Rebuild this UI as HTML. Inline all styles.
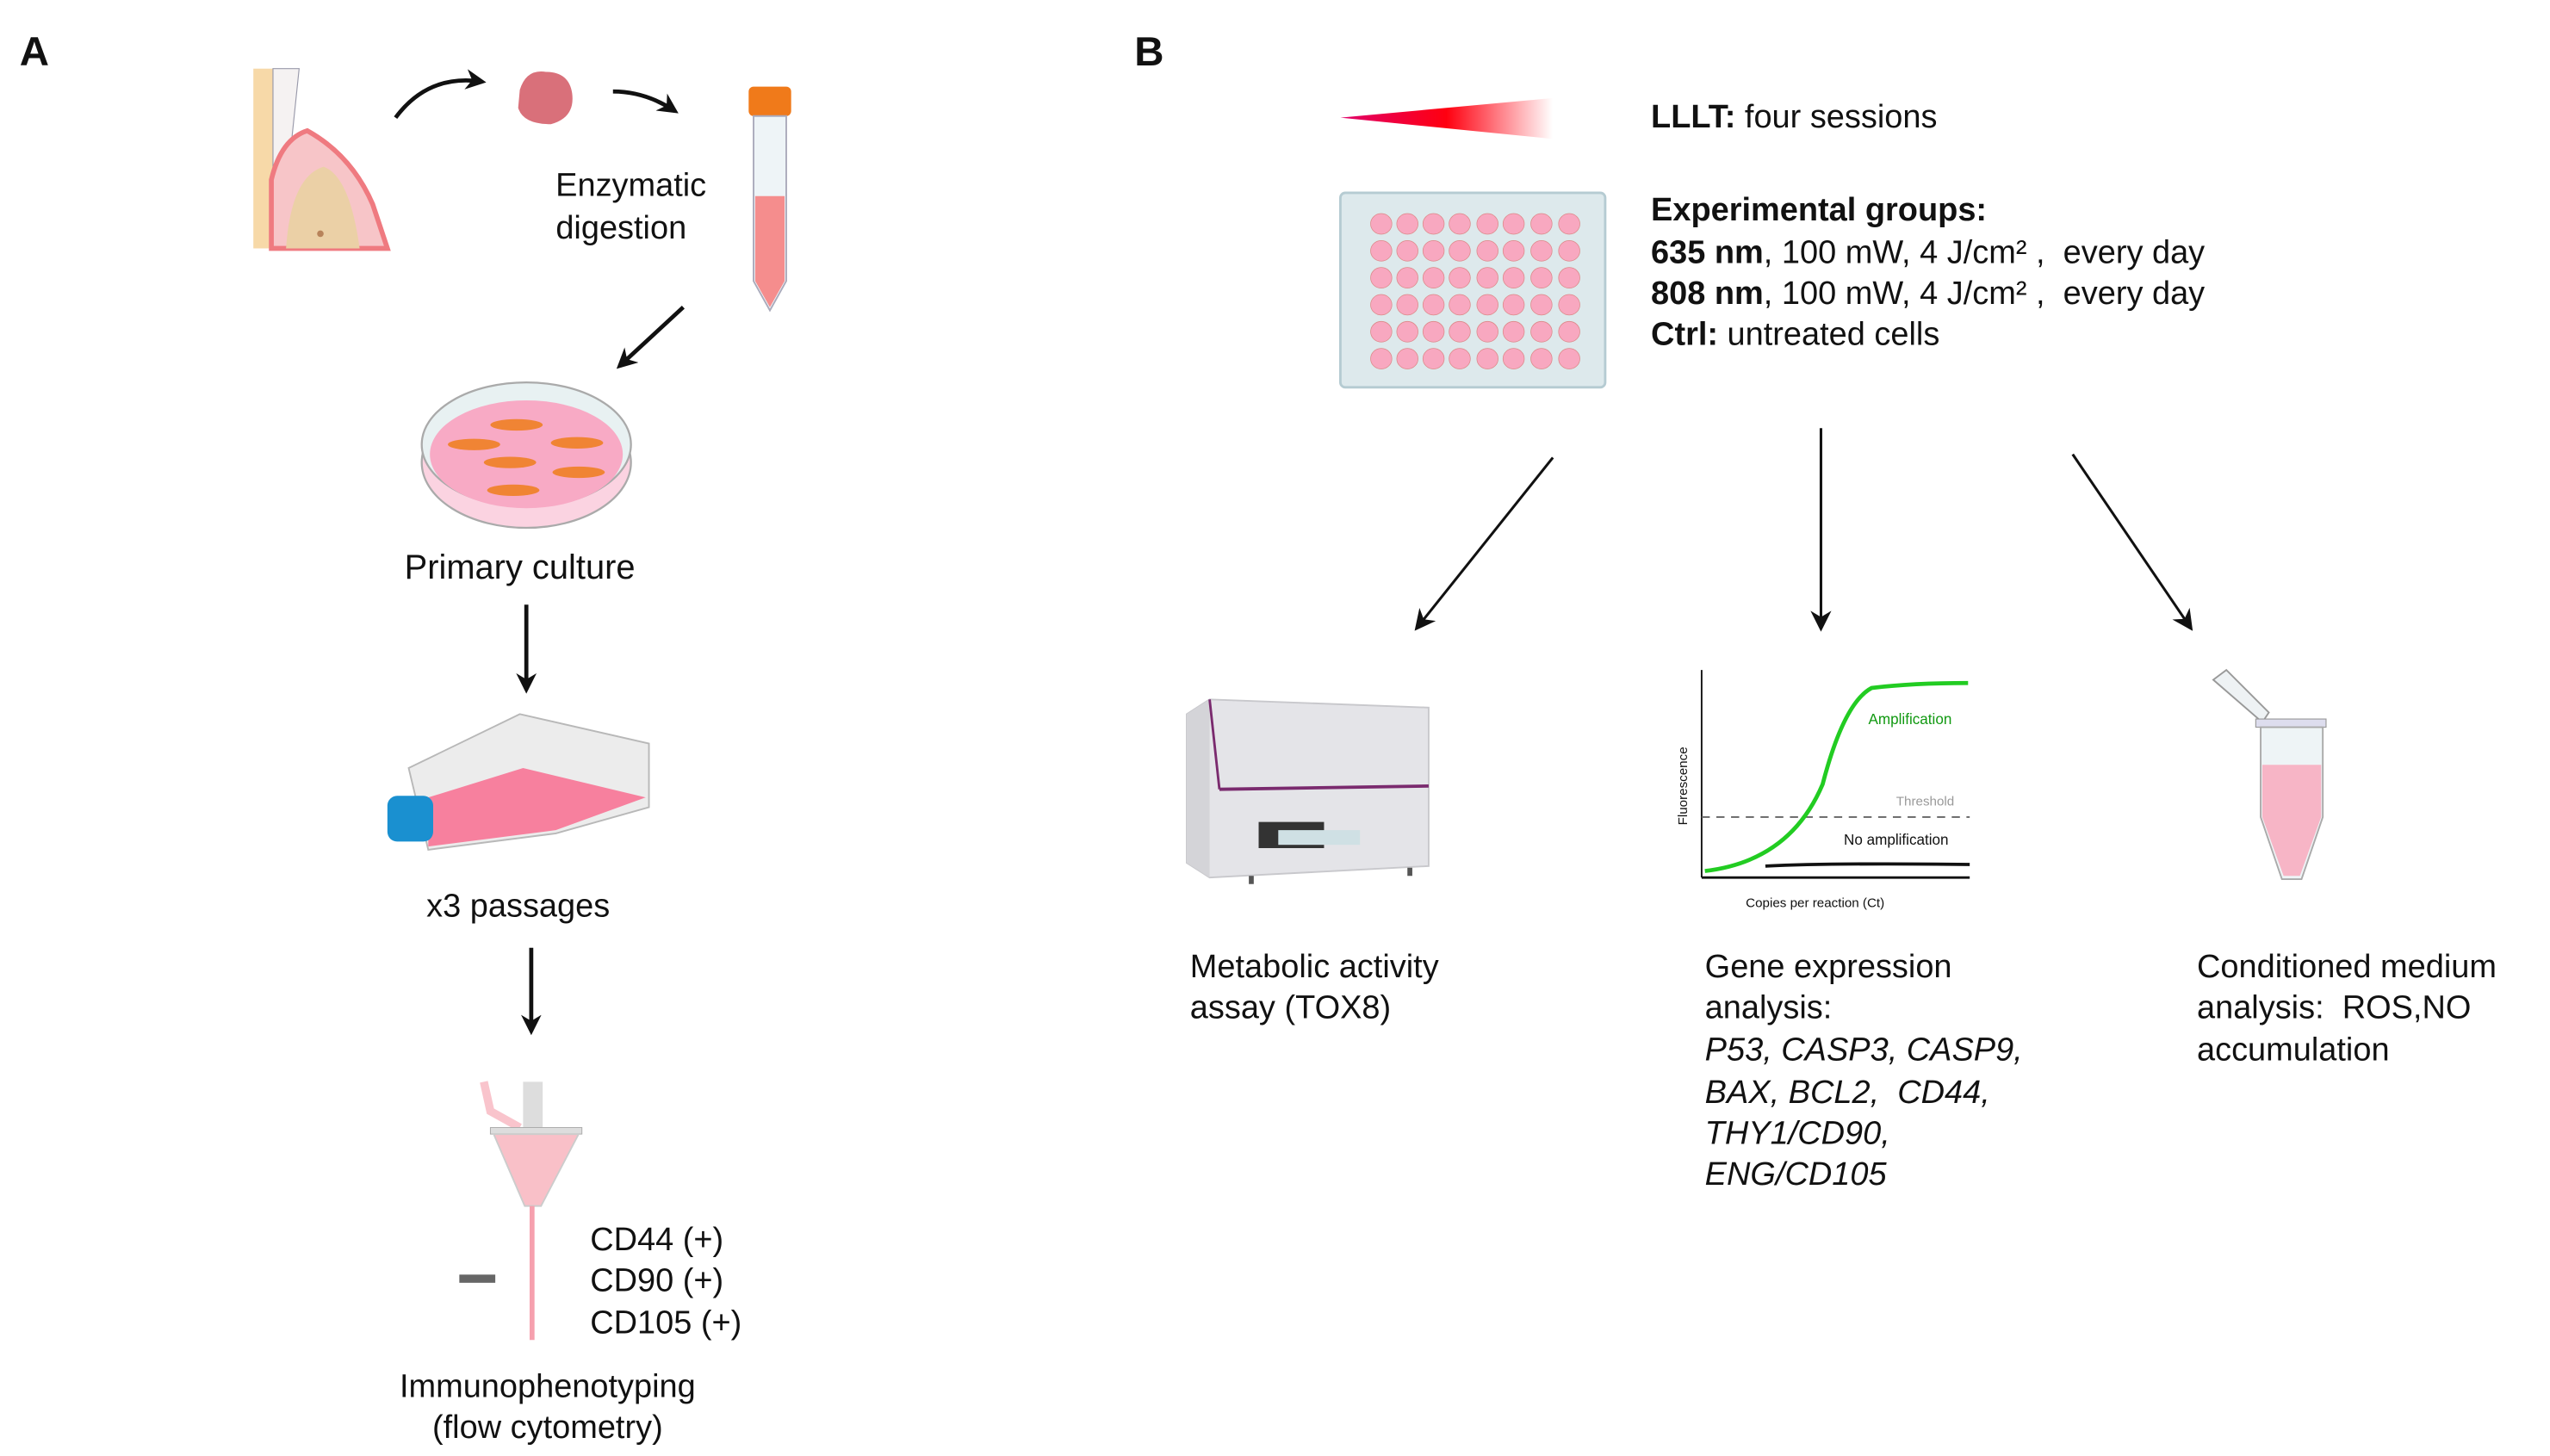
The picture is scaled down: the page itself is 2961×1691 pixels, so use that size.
<!DOCTYPE html>
<html><head><meta charset="utf-8"><style>
html,body{margin:0;padding:0;background:#fff}
svg{display:block}
text{font-family:"Liberation Sans",sans-serif;fill:#111}
</style></head><body>
<svg width="2961" height="1691" viewBox="0 0 1560 891" preserveAspectRatio="none" xmlns="http://www.w3.org/2000/svg">
<defs>
<marker id="ah" viewBox="0 0 10 10" refX="8" refY="5" markerWidth="5" markerHeight="5" orient="auto-start-reverse"><path d="M0,0 L10,5 L0,10 L3,5 z" fill="#111"/></marker>
<marker id="ah2" viewBox="0 0 10 10" refX="8" refY="5" markerWidth="8" markerHeight="8" orient="auto-start-reverse"><path d="M0,0 L10,5 L0,10 L3,5 z" fill="#111"/></marker>
<linearGradient id="laser" x1="0" x2="1" y1="0" y2="0"><stop offset="0" stop-color="#e0006a"/><stop offset="0.5" stop-color="#ff0010"/><stop offset="1" stop-color="#ff0010" stop-opacity="0"/></linearGradient>
</defs>
<!-- Panel A -->
<text x="12" y="40" font-size="25" font-weight="bold">A</text>
<!-- tooth -->
<rect x="155" y="42" width="12" height="110" fill="#f7d9a8"/>
<path d="M167,42 L183,42 L178,90 L167,110 Z" fill="#f5f2f2" stroke="#99a" stroke-width="0.6"/>
<path d="M166,152 L166,110 Q172,85 188,80 Q215,95 228,125 L237,152 Z" fill="#f7c5c8" stroke="#ef7a80" stroke-width="3"/>
<path d="M175,152 Q178,108 198,102 Q214,108 220,152 Z" fill="#ebd0a6"/>
<circle cx="196" cy="143" r="2" fill="#b8835a"/>
<!-- curved arrow -->
<path d="M242,72 Q262,45 295,50" fill="none" stroke="#111" stroke-width="2.5" marker-end="url(#ah)"/>
<!-- tissue -->
<path d="M318,55 Q322,42 334,44 Q348,44 350,57 Q352,72 337,76 Q320,76 317,66 Z" fill="#d9707a"/>
<path d="M375,56 Q395,56 413,68" fill="none" stroke="#111" stroke-width="2.5" marker-end="url(#ah)"/>
<text x="386" y="120" font-size="20" text-anchor="middle">Enzymatic</text>
<text x="380" y="146" font-size="20" text-anchor="middle">digestion</text>
<!-- falcon tube -->
<rect x="458" y="53" width="26" height="18" rx="3" fill="#f07a1a"/>
<path d="M461,71 L481,71 L481,172 L471,190 L461,172 Z" fill="#eef4f7" stroke="#aab" stroke-width="1"/>
<path d="M462,120 L480,120 L480,172 L471,188 L462,172 Z" fill="#f58d8d"/>
<line x1="418" y1="188" x2="379" y2="224" stroke="#111" stroke-width="2.5" marker-end="url(#ah)"/>
<!-- petri -->
<ellipse cx="322" cy="283" rx="64" ry="40" fill="#fbd3e1" stroke="#aaa" stroke-width="1.2"/>
<ellipse cx="322" cy="272" rx="64" ry="38" fill="#e8f1f2" stroke="#aaa" stroke-width="1.2"/>
<ellipse cx="322" cy="278" rx="59" ry="33" fill="#f8aac5"/>
<g fill="#f08434">
<ellipse cx="316" cy="260" rx="16" ry="3.5"/><ellipse cx="290" cy="272" rx="16" ry="3.5"/><ellipse cx="353" cy="271" rx="16" ry="3.5"/><ellipse cx="312" cy="283" rx="16" ry="3.5"/><ellipse cx="354" cy="289" rx="16" ry="3.5"/><ellipse cx="314" cy="300" rx="16" ry="3.5"/>
</g>
<text x="318" y="354" font-size="21" text-anchor="middle">Primary culture</text>
<line x1="322" y1="370" x2="322" y2="422" stroke="#111" stroke-width="2.5" marker-end="url(#ah)"/>
<!-- flask -->
<path d="M250,470 L318,437 L397,455 L397,494 L340,510 L262,520 Z" fill="#ececec" stroke="#b8b8b8" stroke-width="1"/>
<path d="M262,488 L320,470 L395,488 L340,508 L262,518 Z" fill="#f7809e"/>
<rect x="237" y="487" width="28" height="28" rx="6" fill="#1a90d0"/>
<text x="317" y="561" font-size="20" text-anchor="middle">x3 passages</text>
<line x1="325" y1="580" x2="325" y2="631" stroke="#111" stroke-width="2.5" marker-end="url(#ah)"/>
<!-- flow tube -->
<path d="M296,662 L300,680 L318,690" fill="none" stroke="#f9c4cc" stroke-width="5"/>
<rect x="320" y="662" width="12" height="30" fill="#ddd"/>
<rect x="300" y="690" width="56" height="4" fill="#ddd" stroke="#aaa" stroke-width="0.5"/>
<path d="M302,694 L354,694 L331,738 L321,738 Z" fill="#f9c0c8" stroke="#ccc" stroke-width="1"/>
<rect x="324" y="738" width="3" height="82" fill="#f6a0ae"/>
<rect x="281" y="780" width="22" height="5" fill="#666"/>
<text x="361" y="765" font-size="20">CD44 (+)</text>
<text x="361" y="790" font-size="20">CD90 (+)</text>
<text x="361" y="816" font-size="20">CD105 (+)</text>
<text x="335" y="855" font-size="20" text-anchor="middle">Immunophenotyping</text>
<text x="335" y="880" font-size="20" text-anchor="middle">(flow cytometry)</text>
<!-- Panel B -->
<text x="694" y="40" font-size="25" font-weight="bold">B</text>
<path d="M820,72 L950,60 L950,85 Z" fill="url(#laser)"/>
<text x="1010" y="78" font-size="20"><tspan font-weight="bold">LLLT:</tspan> four sessions</text>
<!-- plate -->
<rect x="820" y="118" width="162" height="119" rx="3" fill="#dde9ec" stroke="#b5cbd2" stroke-width="1.5"/>
<g fill="#f8a8c0" stroke="#d88" stroke-width="0.4">
<g id="row"><ellipse cx="845" cy="137" rx="6.5" ry="6.3"/><ellipse cx="861" cy="137" rx="6.5" ry="6.3"/><ellipse cx="877" cy="137" rx="6.5" ry="6.3"/><ellipse cx="893" cy="137" rx="6.5" ry="6.3"/><ellipse cx="910" cy="137" rx="6.5" ry="6.3"/><ellipse cx="926" cy="137" rx="6.5" ry="6.3"/><ellipse cx="943" cy="137" rx="6.5" ry="6.3"/><ellipse cx="960" cy="137" rx="6.5" ry="6.3"/></g>
<use href="#row" y="16.5"/><use href="#row" y="33"/><use href="#row" y="49.5"/><use href="#row" y="66"/><use href="#row" y="82.5"/>
</g>
<text x="1010" y="135" font-size="20" font-weight="bold">Experimental groups:</text>
<text x="1010" y="161" font-size="20" xml:space="preserve"><tspan font-weight="bold">635 nm</tspan>, 100 mW, 4 J/cm² ,  every day</text>
<text x="1010" y="186" font-size="20" xml:space="preserve"><tspan font-weight="bold">808 nm</tspan>, 100 mW, 4 J/cm² ,  every day</text>
<text x="1010" y="211" font-size="20"><tspan font-weight="bold">Ctrl:</tspan> untreated cells</text>
<line x1="950" y1="280" x2="867" y2="384" stroke="#111" stroke-width="1.6" marker-end="url(#ah2)"/>
<line x1="1114" y1="262" x2="1114" y2="384" stroke="#111" stroke-width="1.6" marker-end="url(#ah2)"/>
<line x1="1268" y1="278" x2="1340" y2="384" stroke="#111" stroke-width="1.6" marker-end="url(#ah2)"/>
<!-- reader -->
<path d="M726,437 L740,428 L874,433 L874,530 L740,537 L726,528 Z" fill="#e4e4e8" stroke="#c8c8cc" stroke-width="1"/>
<path d="M726,437 L740,428 L740,537 L726,528 Z" fill="#d4d4d8"/>
<line x1="740" y1="428" x2="746" y2="483" stroke="#7a2a6e" stroke-width="1.5"/>
<line x1="746" y1="483" x2="874" y2="481" stroke="#7a2a6e" stroke-width="2"/>
<rect x="770" y="503" width="40" height="16" fill="#333"/>
<rect x="782" y="508" width="50" height="9" fill="#cfe0e4"/>
<rect x="764" y="536" width="3" height="5" fill="#555"/><rect x="861" y="531" width="3" height="5" fill="#555"/>
<!-- graph -->
<line x1="1041" y1="410" x2="1041" y2="537" stroke="#111" stroke-width="1"/>
<line x1="1041" y1="537" x2="1205" y2="537" stroke="#111" stroke-width="1.5"/>
<line x1="1041" y1="500" x2="1205" y2="500" stroke="#666" stroke-width="1" stroke-dasharray="5,4"/>
<path d="M1043,533 Q1095,527 1115,480 Q1128,430 1145,421 Q1170,418 1204,418" fill="none" stroke="#22cc22" stroke-width="2.5"/>
<path d="M1080,530 Q1120,528 1205,529" fill="none" stroke="#111" stroke-width="2"/>
<text x="1143" y="443" font-size="9" style="fill:#119911">Amplification</text>
<text x="1160" y="493" font-size="8" style="fill:#999">Threshold</text>
<text x="1128" y="517" font-size="9">No amplification</text>
<text x="1068" y="555" font-size="8">Copies per reaction (Ct)</text>
<text transform="translate(1032,505) rotate(-90)" font-size="8">Fluorescence</text>
<!-- eppendorf -->
<path d="M1354,416 L1362,410 L1388,436 L1384,442 Z" fill="#eef2f4" stroke="#999" stroke-width="1"/>
<rect x="1380" y="440" width="43" height="5" fill="#dde" stroke="#999" stroke-width="0.6"/>
<path d="M1383,445 L1421,445 L1421,500 L1408,538 L1396,538 L1383,500 Z" fill="#eef4f6" stroke="#aaa" stroke-width="1"/>
<path d="M1384,468 L1420,468 L1420,500 L1407,536 L1397,536 L1384,500 Z" fill="#f7b5c6"/>
<text x="728" y="598" font-size="20">Metabolic activity</text>
<text x="728" y="623" font-size="20">assay (TOX8)</text>
<text x="1043" y="598" font-size="20">Gene expression</text>
<text x="1043" y="623" font-size="20">analysis:</text>
<g font-style="italic">
<text x="1043" y="649" font-size="20">P53, CASP3, CASP9,</text>
<text x="1043" y="675" font-size="20" xml:space="preserve">BAX, BCL2,  CD44,</text>
<text x="1043" y="700" font-size="20">THY1/CD90,</text>
<text x="1043" y="725" font-size="20">ENG/CD105</text>
</g>
<text x="1344" y="598" font-size="20">Conditioned medium</text>
<text x="1344" y="623" font-size="20" xml:space="preserve">analysis:  ROS,NO</text>
<text x="1344" y="649" font-size="20">accumulation</text>
</svg>
</body></html>
